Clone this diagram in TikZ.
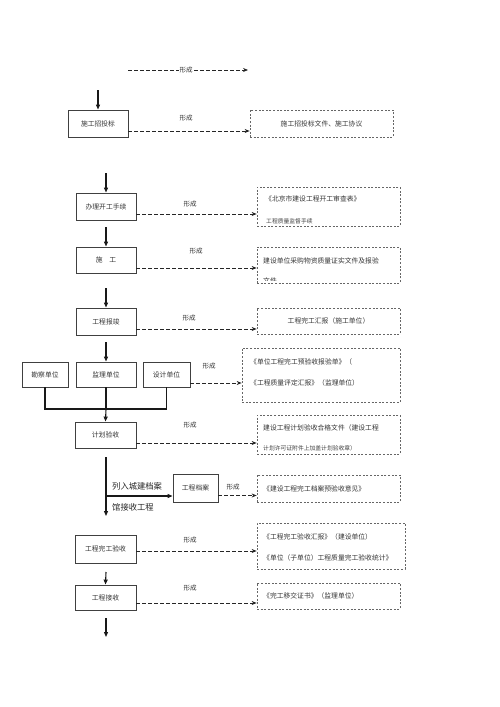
\documentclass[tikz,border=0pt]{standalone}
\usepackage{fontspec}
\setmainfont{Noto Sans CJK SC}
\usetikzlibrary{arrows.meta}
\begin{document}
\begin{tikzpicture}[x=1pt,y=-1pt,
  box/.style={draw=black!75, line width=0.9pt, inner sep=0pt, font=\fontsize{6.8}{8}\selectfont, text=black!80},
  dbox/.style={draw=black!60, dash pattern=on 2pt off 1.6pt, line width=0.7pt, inner sep=0pt},
  dtext/.style={font=\fontsize{6.8}{8}\selectfont, text=black!80, inner sep=0pt},
  stext/.style={font=\fontsize{5.8}{7}\selectfont, text=black!75, inner sep=0pt},
  lbl/.style={font=\fontsize{6.5}{8}\selectfont, text=black!80, inner sep=0pt},
  biglbl/.style={font=\fontsize{8.3}{10}\selectfont, text=black!85, inner sep=0pt},
  darr/.style={dash pattern=on 3.5pt off 2.5pt, line width=0.8pt, draw=black!85, -{Stealth[length=5pt,width=4pt]}},
  sarr/.style={line width=1.1pt, draw=black!90, -{Triangle[length=5pt,width=4pt]}},
  sline/.style={line width=1.1pt, draw=black!90}]
\useasboundingbox (0,0) rectangle (500,707);

% top legend arrow
\coordinate (l0) at (128,70);
\coordinate (l1) at (248,70);
\draw[darr] (l0) -- (l1);
\node[lbl, fill=white, inner sep=0.5pt] (lt) at (186,70) {形成};

% main boxes
\node[box, minimum width=60pt, minimum height=27pt] (b1) at (98,123.5) {施工招投标};
\node[box, minimum width=60pt, minimum height=27pt] (b2) at (106,206.5) {办理开工手续};
\node[box, minimum width=60pt, minimum height=26pt] (b3) at (106,260) {施\quad 工};
\node[box, minimum width=60pt, minimum height=27pt] (b4) at (106,321.5) {工程报竣};
\node[box, minimum width=46pt, minimum height=25pt] (k1) at (45,374.5) {勘察单位};
\node[box, minimum width=60pt, minimum height=25pt] (k2) at (106,374.5) {监理单位};
\node[box, minimum width=47pt, minimum height=25pt] (k3) at (166.5,374.5) {设计单位};
\node[box, minimum width=61pt, minimum height=26pt] (b5) at (105.5,435) {计划验收};
\node[box, minimum width=45pt, minimum height=28pt] (b6) at (195.5,488) {工程档案};
\node[box, minimum width=61pt, minimum height=28pt] (b7) at (105.5,549) {工程完工验收};
\node[box, minimum width=61pt, minimum height=25pt] (b8) at (105.5,597.5) {工程接收};

% dashed result boxes
\node[dbox, minimum width=143pt, minimum height=27pt] (d1) at (321.5,123.5) {};
\node[dtext] (t1) at (d1.center) {施工招投标文件、施工协议};
\node[dbox, minimum width=143pt, minimum height=39pt] (d2) at (328.5,206.5) {};
\node[dtext, anchor=west] (t2a) at (265,199) {《北京市建设工程开工审查表》};
\node[stext, anchor=west] (t2b) at (266,221) {工程质量监督手续};
\node[dbox, minimum width=143pt, minimum height=36pt] (d3) at (328.5,265) {};
\node[dtext, anchor=west] (t3a) at (263,261) {建设单位采购物资质量证实文件及报验};
\begin{scope}
\clip (258,276) rectangle (399,280.5);
\node[dtext, anchor=west] (t3b) at (263,281) {文件};
\end{scope}
\node[dbox, minimum width=143pt, minimum height=26pt] (d4) at (328.5,321) {};
\node[dtext] (t4) at (d4.center) {工程完工汇报（施工单位）};
\node[dbox, minimum width=158pt, minimum height=54pt] (d5) at (321,375) {};
\node[dtext, anchor=west] (t5a) at (250,362) {《单位工程完工预验收报验单》（};
\node[dtext, anchor=west] (t5b) at (250,383) {《工程质量评定汇报》（监理单位）};
\node[dbox, minimum width=143pt, minimum height=39pt] (d6) at (328.5,434.5) {};
\node[dtext, anchor=west] (t6a) at (263,428) {建设工程计划验收合格文件（建设工程};
\node[stext, anchor=west] (t6b) at (263,448) {计划许可证附件上加盖计划验收章）};
\node[dbox, minimum width=143pt, minimum height=27pt] (d7) at (328.5,488.5) {};
\node[dtext, anchor=west] (t7) at (263,488.5) {《建设工程完工档案预验收意见》};
\node[dbox, minimum width=148pt, minimum height=46pt] (d8) at (331,546) {};
\node[dtext, anchor=west] (t8a) at (263,537) {《工程完工验收汇报》（建设单位）};
\node[dtext, anchor=west] (t8b) at (263,558) {《单位（子单位）工程质量完工验收统计》};
\node[dbox, minimum width=143pt, minimum height=26pt] (d9) at (328.5,596) {};
\node[dtext, anchor=west] (t9) at (263,596) {《完工移交证书》（监理单位）};

% dashed connectors
\draw[darr] ([yshift=-7.5pt]b1.east) -- ([yshift=-7.5pt]b1.east -| d1.west);
\draw[darr] ([yshift=-7.5pt]b2.east) -- ([yshift=-7.5pt]b2.east -| d2.west);
\draw[darr] ([yshift=-8pt]b3.east) -- ([yshift=-8pt]b3.east -| d3.west);
\draw[darr] ([yshift=-7.5pt]b4.east) -- ([yshift=-7.5pt]b4.east -| d4.west);
\draw[darr] ([yshift=-8.5pt]k3.east) -- ([yshift=-8.5pt]k3.east -| d5.west);
\draw[darr] ([yshift=-8pt]b5.east) -- ([yshift=-8pt]b5.east -| d6.west);
\draw[darr] ([yshift=-7.5pt]b6.east) -- ([yshift=-7.5pt]b6.east -| d7.west);
\draw[darr] ([yshift=-2pt]b7.east) -- ([yshift=-2pt]b7.east -| d8.west);
\draw[darr] ([yshift=-5.5pt]b8.east) -- ([yshift=-5.5pt]b8.east -| d9.west);

% labels 形成
\node[lbl] (f1) at (186,118) {形成};
\node[lbl] (f2) at (190,204) {形成};
\node[lbl] (f3) at (196,251) {形成};
\node[lbl] (f4) at (189,318) {形成};
\node[lbl] (f5) at (209,366) {形成};
\node[lbl] (f6) at (190,425) {形成};
\node[lbl] (f7) at (233,487) {形成};
\node[lbl] (f8) at (190,540) {形成};
\node[lbl] (f9) at (190,588) {形成};

% solid arrows down
\coordinate (a1) at (98,90);
\draw[sarr] (a1) -- (b1.north);
\coordinate (a2) at (106,173);
\draw[sarr] (a2) -- (b2.north);
\coordinate (a3) at (106,227);
\draw[sarr] (a3) -- (b3.north);
\coordinate (a4) at (106,288);
\draw[sarr] (a4) -- (b4.north);
\coordinate (a5) at (106,342);
\draw[sarr] (a5) -- (k2.north);
% bracket
\coordinate (br) at (106,409);
\draw[sline] (k1.south) |- (br) -| (k3.south);
\draw[sline] (k2.south) -- (br);
\draw[sarr] (br) -- (b5.north);
% branch
\coordinate (a6) at (106,457);
\coordinate (a6e) at (106,516);
\coordinate (bj) at (106,496);
\draw[sarr] (a6) -- (a6e);
\draw[sarr] (bj) -- (bj -| b6.west);
\node[biglbl, anchor=west] (r1) at (112,486) {列入城建档案};
\node[biglbl, anchor=west] (r2) at (112,507) {馆接收工程};
\coordinate (a7) at (106,572);
\draw[sarr] (a7) -- (b8.north);
\coordinate (a8) at (106,618);
\coordinate (a8e) at (106,637);
\draw[sarr] (a8) -- (a8e);
\end{tikzpicture}
\end{document}
